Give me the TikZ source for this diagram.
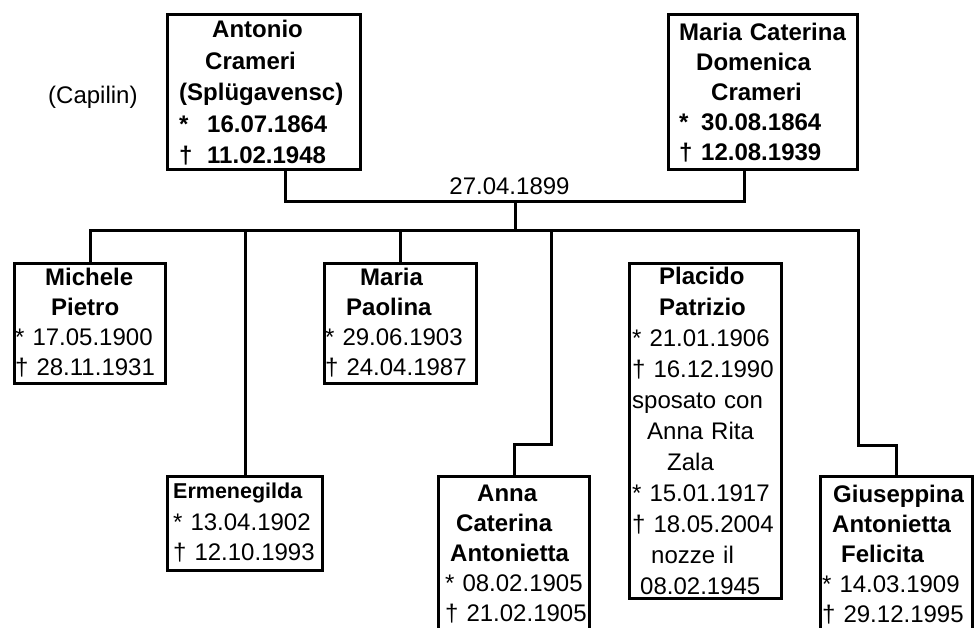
\documentclass[tikz,border=0pt]{standalone}
\usepackage{fontspec}
\setmainfont{Liberation Sans}
% indent of a line inside a person's card
\newcommand{\ind}[1]{\hspace*{#1pt}}
% birth mark at the start of a line (braced so that \\ does not read it as \\*)
\newcommand{\born}{{*}}
\begin{document}
\begin{tikzpicture}[x=1pt,y=-1pt,
  card/.style={draw=black, line width=3pt, rectangle, inner sep=0pt},
  txt/.style={anchor=north west, inner sep=0pt, text width=200pt, align=left,
              font=\fontsize{24}{30}\selectfont},
  link/.style={draw=black, line width=3pt}]

\useasboundingbox (0,0) rectangle (974,627);
\clip (0,0) rectangle (974,627);
\fill[white] (0,0) rectangle (974,627);

% ---- parents
\node[card, minimum width=193pt, minimum height=155pt] (ant) at (264,92) {};
\node[card, minimum width=189pt, minimum height=155pt] (mar) at (763,92) {};

\node[txt, font=\bfseries\fontsize{24}{31.5}\selectfont] (antT) at (179,20)
  {\ind{33}Antonio\\ \ind{26}Crameri\\ (Splügavensc)\\
   \makebox[28pt][l]{*}16.07.1864\\ \makebox[28pt][l]{†}11.02.1948};
\node[txt, font=\bfseries\fontsize{24}{30}\selectfont] (marT) at (679,23)
  {Maria Caterina\\ \ind{17}Domenica\\ \ind{32}Crameri\\
   \makebox[22pt][l]{*}30.08.1864\\ \makebox[22pt][l]{†}12.08.1939};

\node[anchor=north west, inner sep=0pt, font=\fontsize{24}{30}\selectfont] (nick) at (48,86) {(Capilin)};

% ---- children
\node[card, minimum width=151pt, minimum height=120pt] (mic) at (90,323.5) {};
\node[card, minimum width=152pt, minimum height=120pt] (pao) at (400.5,323.5) {};
\node[card, minimum width=152pt, minimum height=335pt] (pla) at (705.5,431) {};
\node[card, minimum width=155pt, minimum height=94pt]  (erm) at (245,523.5) {};
\node[card, minimum width=151pt, minimum height=202pt] (ann) at (514,577.5) {};
\node[card, minimum width=152pt, minimum height=202pt] (gius) at (896.5,577.5) {};

\node[txt] (micT) at (15,268)
  {\ind{30}\textbf{Michele}\\ \ind{36}\textbf{Pietro}\\ \born{} 17.05.1900\\ † 28.11.1931};
\node[txt] (paoT) at (325,268)
  {\ind{35}\textbf{Maria}\\ \ind{21}\textbf{Paolina}\\ \born{} 29.06.1903\\ † 24.04.1987};
\node[txt, font=\fontsize{24}{31}\selectfont] (plaT) at (632,267)
  {\ind{27}\textbf{Placido}\\ \ind{27}\textbf{Patrizio}\\ \born{} 21.01.1906\\ † 16.12.1990\\
   sposato con\\ \ind{15}Anna Rita\\ \ind{35}Zala\\ \born{} 15.01.1917\\ † 18.05.2004\\
   \ind{19}nozze il\\ \ind{8}08.02.1945};
\node[txt] (ermT) at (173,483)
  {{\fontsize{21.5}{30}\selectfont\bfseries Ermenegilda}\\[1.5pt] \born{} 13.04.1902\\ † 12.10.1993};
\node[txt] (annT) at (445,485)
  {\ind{32}\textbf{Anna}\\ \ind{11}\textbf{Caterina}\\ \ind{5}\textbf{Antonietta}\\
   \born{} 08.02.1905\\ † 21.02.1905};
\node[txt] (giusT) at (822,485)
  {\ind{11}\textbf{Giuseppina}\\ \ind{10}\textbf{Antonietta}\\ \ind{19}\textbf{Felicita}\\
   \born{} 14.03.1909\\ † 29.12.1995};

% ---- marriage line and date
\coordinate (wed) at (515,201);
\coordinate (kids) at (515,230.5);
\coordinate (barR) at (858.5,230.5);
\coordinate (annj) at (551.5,444.5);
\coordinate (giuj) at (858.5,445.5);

\node[anchor=base, inner sep=0pt, font=\fontsize{24}{30}\selectfont] (wdate) at (509.5,194) {27.04.1899};

\draw[link] ([xshift=21pt]ant.south) |- (wed) -| ([xshift=-19pt]mar.south);
\draw[link] (wed) -- (kids);

% ---- children bar and drops
\draw[link] (mic.north) |- (barR) -- (giuj) -| (gius.north);
\draw[link] (erm.north) -- (erm.north |- kids);
\draw[link] (pao.north) -- (pao.north |- kids);
\draw[link] (ann.north) |- (annj) -- (annj |- kids);
\end{tikzpicture}
\end{document}
